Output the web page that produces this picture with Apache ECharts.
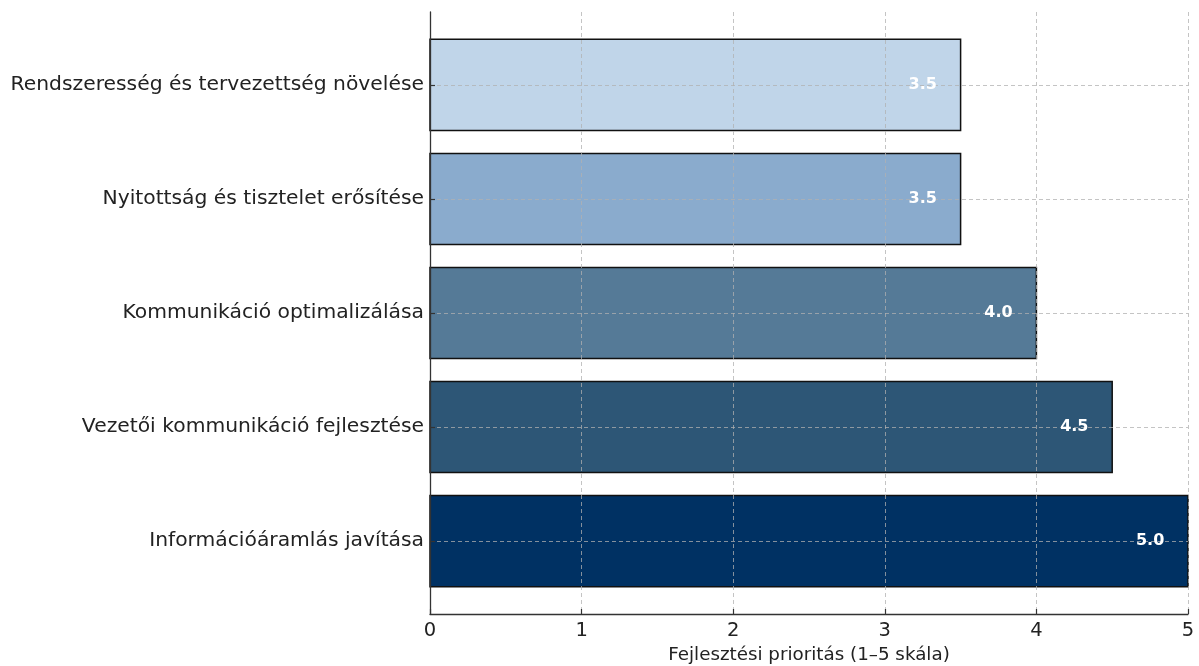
<!DOCTYPE html>
<html>
<head>
<meta charset="utf-8">
<title>Fejlesztési prioritások</title>
<script src="https://cdn.jsdelivr.net/npm/echarts@6/dist/echarts.min.js"></script>
<style>
  html, body { margin: 0; padding: 0; background: #ffffff; }
  #chart { width: 1199px; height: 666px; }
</style>
</head>
<body>
<div id="chart"></div>
<script>
// Development areas, listed top to bottom
const categories = [
  'Rendszeresség és tervezettség növelése',
  'Nyitottság és tisztelet erősítése',
  'Kommunikáció optimalizálása',
  'Vezetői kommunikáció fejlesztése',
  'Információáramlás javítása'
];
// Priority score on a 1–5 scale
const priorities = [3.5, 3.5, 4.0, 4.5, 5.0];
// Fill colour of each bar, light to dark
const barColors = ['#c0d5e9', '#8aabcd', '#557a97', '#2d5676', '#003163'];
// Value axis ticks
const xTicks = [0, 1, 2, 3, 4, 5];

const FONT = 'DejaVu Sans';
const BAR_HEIGHT = 0.8;   // bar thickness in category units
const LABEL_INSET = 0.25; // value label centre, measured back from the bar end

const barData = priorities.map((v, i) => [v, i]);
const gridColor = 'rgba(176,176,176,0.75)';

const chart = echarts.init(document.getElementById('chart'), null, { renderer: 'canvas' });

chart.setOption({
  animation: false,
  backgroundColor: '#ffffff',
  grid: {
    left: 430, right: 11, top: 12, bottom: 52,
    containLabel: false,
    outerBoundsMode: 'none'
  },
  xAxis: {
    type: 'value',
    position: 'bottom',
    min: xTicks[0],
    max: xTicks[xTicks.length - 1],
    interval: 1,
    z: 5,
    name: 'Fejlesztési prioritás (1–5 skála)',
    nameLocation: 'middle',
    nameGap: 31,
    nameTextStyle: { fontFamily: FONT, fontSize: 18.3, color: '#222' },
    axisLine: { show: true, onZero: false, lineStyle: { color: '#333', width: 1.3 } },
    axisTick: { show: true, inside: true, length: 5, lineStyle: { color: '#333', width: 1.2 } },
    axisLabel: { fontFamily: FONT, fontSize: 19.5, color: '#222', margin: 7 },
    splitLine: { show: true, lineStyle: { color: gridColor, type: [4, 3], width: 1 } }
  },
  yAxis: {
    type: 'value',
    inverse: true,
    min: -0.64,
    max: categories.length - 1 + 0.64,
    z: 5,
    axisLine: { show: true, onZero: false, lineStyle: { color: '#333', width: 1.3 } },
    axisTick: {
      show: true, inside: true, length: 5,
      customValues: categories.map((_, i) => i),
      lineStyle: { color: '#333', width: 1.2 }
    },
    axisLabel: {
      customValues: categories.map((_, i) => i),
      formatter: (v) => categories[Math.round(v)] || '',
      fontFamily: FONT, fontSize: 20.3, color: '#222', margin: 6
    },
    splitLine: { show: false }
  },
  series: [
    {
      // the bars
      type: 'custom',
      z: 2,
      encode: { x: 0, y: 1 },
      data: barData,
      renderItem: (params, api) => {
        const idx = api.value(1);
        const val = api.value(0);
        const start = api.coord([0, idx]);
        const end = api.coord([val, idx]);
        const h = Math.abs(api.size([0, BAR_HEIGHT])[1]);
        return {
          type: 'rect',
          shape: { x: start[0], y: start[1] - h / 2, width: end[0] - start[0], height: h },
          style: { fill: barColors[params.dataIndex], stroke: '#111', lineWidth: 1.5 }
        };
      },
      // horizontal grid lines through each category centre
      markLine: {
        silent: true,
        symbol: 'none',
        label: { show: false },
        lineStyle: { color: gridColor, type: [4, 3], width: 1 },
        data: categories.map((_, i) => ({ yAxis: i }))
      }
    },
    {
      // value labels inside the bar ends
      type: 'custom',
      z: 10,
      encode: { x: 0, y: 1 },
      data: barData,
      renderItem: (params, api) => {
        const idx = api.value(1);
        const val = api.value(0);
        const p = api.coord([val - LABEL_INSET, idx]);
        return {
          type: 'text',
          x: p[0],
          y: p[1],
          style: {
            text: val.toFixed(1),
            fill: '#ffffff',
            fontFamily: FONT,
            fontWeight: 'bold',
            fontSize: 16,
            align: 'center',
            verticalAlign: 'middle'
          }
        };
      }
    }
  ]
});
</script>
</body>
</html>
